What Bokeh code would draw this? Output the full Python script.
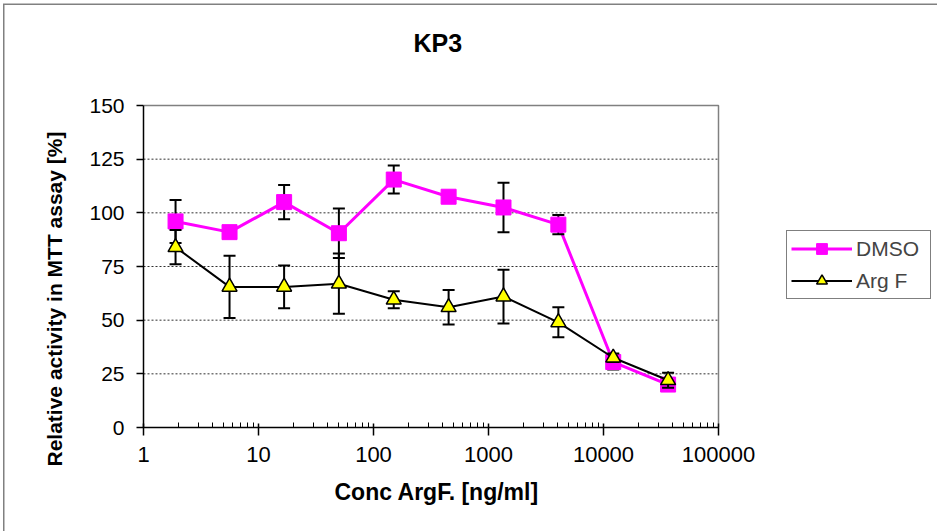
from bokeh.plotting import figure
from bokeh.models import (ColumnDataSource, FixedTicker, Legend, LegendItem,
                          Title, Label)
from bokeh.embed import file_html
from bokeh.resources import INLINE

# Concentration series (3-fold dilutions, ng/ml)
conc = [1.9, 5.6, 16.7, 50, 150, 450, 1350, 4050, 12150, 36450]

# Relative activity in MTT assay [%] with error (±)
dmso = [96, 91, 105, 90.5, 115.5, 107.5, 102.5, 94.5, 30.5, 20]
dmso_err = [10, 1, 8, 11.5, 6.5, 1, 11.5, 4.5, 3.5, 1]
argf = [84, 65.5, 65.5, 67, 59.5, 56, 61, 49, 32.5, 22]
argf_err = [8, 14.5, 10, 14, 4, 8, 12.5, 7, 2, 3.5]

x_ticks = [1, 10, 100, 1000, 10000, 100000]
y_ticks = [0, 25, 50, 75, 100, 125, 150]

FONT = "Liberation Sans"

# Plot-area geometry: the canvas frame runs to the top/right edges so the
# legend and title can live inside it; the data area is bounded by the axes.
W, H = 937, 531
LEFT, BOTTOM = 143, 104
AREA_W, AREA_H = 575, 322
X_MIN, X_MAX = x_ticks[0], x_ticks[-1]
Y_MIN, Y_MAX = y_ticks[0], y_ticks[-1]
decades = 5
x_end = 10 ** (decades * (W - LEFT) / AREA_W)
y_end = Y_MAX * (H - BOTTOM) / AREA_H


def make_source(vals, errs):
    return ColumnDataSource(dict(
        x=conc, y=vals,
        lo=[v - e for v, e in zip(vals, errs)],
        hi=[v + e for v, e in zip(vals, errs)],
    ))


src_dmso = make_source(dmso, dmso_err)
src_argf = make_source(argf, argf_err)

p = figure(width=W, height=H, x_axis_type="log",
           x_range=(X_MIN, x_end), y_range=(Y_MIN, y_end),
           output_backend="svg", toolbar_location=None,
           min_border_left=LEFT, min_border_right=0,
           min_border_top=0, min_border_bottom=BOTTOM)

p.title.text = ""
p.title.standoff = 0
p.background_fill_color = None
p.border_fill_color = None
p.outline_line_color = None
# thin grey chart border on the left and top, behind the transparent canvas
p.styles = {"background-color": "white",
            "box-shadow": "inset 3px 3.5px 0 0 white, inset 4.5px 5px 0 0 #808080"}

# dotted grid lines across the data area only
p.xgrid.grid_line_color = None
p.ygrid.grid_line_color = None
inner = y_ticks[1:-1]
p.segment(x0=[X_MIN] * len(inner), y0=inner, x1=[X_MAX] * len(inner), y1=inner,
          line_color="#303030", line_dash="2 2", line_width=1)

# grey top and right edges of the plot area
p.line([X_MIN, X_MAX, X_MAX], [Y_MAX, Y_MAX, Y_MIN],
       line_color="#808080", line_width=1.5)

# axes
minor = [m * d for d in [1, 10, 100, 1000, 10000] for m in range(2, 10)]
p.xaxis.ticker = FixedTicker(ticks=x_ticks, minor_ticks=minor)
p.xaxis.major_label_overrides = {t: str(t) for t in x_ticks}
p.xaxis.bounds = (X_MIN, X_MAX)
p.yaxis.ticker = FixedTicker(ticks=y_ticks)
p.yaxis.bounds = (Y_MIN, Y_MAX)

for ax in (p.xaxis[0], p.yaxis[0]):
    ax.axis_line_color = "black"
    ax.axis_line_width = 1.5
    ax.major_tick_line_color = "black"
    ax.major_tick_line_width = 1.5
    ax.minor_tick_line_color = "black"
    ax.minor_tick_line_width = 1
    ax.major_label_text_font = FONT
    ax.major_label_text_color = "black"

p.xaxis.major_label_text_font_size = "22px"
p.yaxis.major_label_text_font_size = "21px"
p.xaxis.major_tick_in = 4
p.xaxis.major_tick_out = 8
p.xaxis.minor_tick_in = 5
p.xaxis.minor_tick_out = 0
p.xaxis.major_label_standoff = 11

p.yaxis.major_tick_in = 0
p.yaxis.major_tick_out = 7
p.yaxis.minor_tick_line_color = None
p.yaxis.major_label_standoff = 12

# axis titles
x_title = Title(text="Conc ArgF. [ng/ml]", align="left", offset=191,
                standoff=24, text_font=FONT, text_font_size="23px",
                text_font_style="bold", text_color="black")
p.add_layout(x_title, "below")
y_title = Title(text="Relative activity in MTT assay [%]", align="left",
                offset=-39, standoff=42, text_font=FONT,
                text_font_size="21px", text_font_style="bold",
                text_color="black")
p.add_layout(y_title, "left")

# chart title
p.add_layout(Label(x=362, y=179.3, text="KP3", text_font=FONT,
                   text_font_size="25px", text_font_style="bold",
                   text_color="black", text_align="center",
                   text_baseline="middle"))

# DMSO series
l_dmso = p.line("x", "y", source=src_dmso, line_color="#FF00FF", line_width=3)
p.segment(x0="x", y0="lo", x1="x", y1="hi", source=src_dmso,
          line_color="black", line_width=2)
p.scatter("x", "lo", source=src_dmso, marker="dash", size=12,
          line_color="black", line_width=2)
p.scatter("x", "hi", source=src_dmso, marker="dash", size=12,
          line_color="black", line_width=2)
m_dmso = p.scatter("x", "y", source=src_dmso, marker="square", size=15,
                   fill_color="#FF00FF", line_color="#FF00FF")

# Arg F series
l_argf = p.line("x", "y", source=src_argf, line_color="black", line_width=2)
p.segment(x0="x", y0="lo", x1="x", y1="hi", source=src_argf,
          line_color="black", line_width=2)
p.scatter("x", "lo", source=src_argf, marker="dash", size=12,
          line_color="black", line_width=2)
p.scatter("x", "hi", source=src_argf, marker="dash", size=12,
          line_color="black", line_width=2)
m_argf = p.scatter("x", "y", source=src_argf, marker="triangle", size=15,
                   fill_color="#FFFF00", line_color="black", line_width=1.5)

legend = Legend(items=[
    LegendItem(label="DMSO", renderers=[l_dmso, m_dmso]),
    LegendItem(label="Arg F", renderers=[l_argf, m_argf]),
], location=(643, 128))
legend.border_line_color = "black"
legend.border_line_width = 1
legend.background_fill_color = "white"
legend.label_text_font = FONT
legend.label_text_font_size = "21px"
legend.glyph_width = 61
legend.glyph_height = 27
legend.label_height = 20
legend.label_width = 70
legend.label_standoff = 4
legend.padding = 4
legend.spacing = 5
legend.margin = 0
p.add_layout(legend, "center")

open("out.html", "w").write(file_html(p, INLINE))
